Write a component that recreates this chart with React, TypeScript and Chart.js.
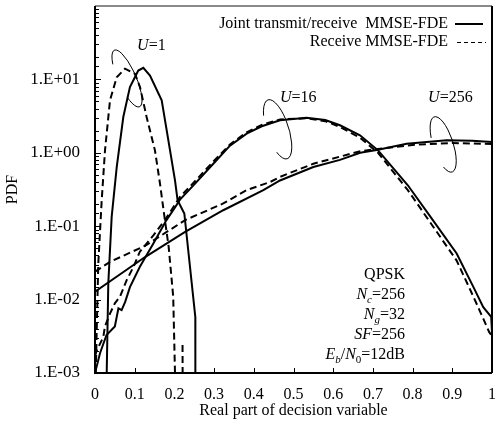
import React, { useEffect, useRef } from "react";
import { Chart, registerables } from "chart.js";

Chart.register(...registerables);

// Probability density of the real part of the decision variable.
// Joint transmit/receive MMSE-FDE (solid) versus receive-only MMSE-FDE (dashed).

const jointU1X = [0.0295, 0.0335, 0.042, 0.0547, 0.0713, 0.088, 0.109, 0.1217, 0.1385, 0.168, 0.189, 0.2015, 0.208, 0.225, 0.2527, 0.2528];
const jointU1Pdf = [0.001, 0.0166, 0.134, 0.64, 3.07, 7.86, 13.2, 14.4, 11.3, 5.18, 1.08, 0.42, 0.226, 0.149, 0.0058, 0.001];

const recvU1X = [0.002, 0.0043, 0.0083, 0.0169, 0.0252, 0.0378, 0.0547, 0.0756, 0.1008, 0.1134, 0.13, 0.151, 0.1637, 0.1738, 0.1856, 0.197, 0.2015, 0.21, 0.2205, 0.2207];
const recvU1Pdf = [0.001, 0.0038, 0.031, 0.226, 1.08, 5.18, 10.7, 14.0, 11.9, 7.86, 3.07, 1.08, 0.381, 0.149, 0.052, 0.011, 0.001, null, 0.0024, 0.001];

const jointU16X = [0, 0.0126, 0.029, 0.05, 0.059, 0.067, 0.076, 0.088, 0.113, 0.147, 0.18, 0.2015, 0.214, 0.248, 0.298, 0.34, 0.382, 0.42, 0.466, 0.533, 0.58, 0.617, 0.6675, 0.713, 0.788, 0.851, 0.911, 0.953, 0.978, 0.998, 1.0];
const jointU16Pdf = [0.001, 0.00186, 0.0033, 0.0043, 0.0076, 0.0072, 0.0093, 0.0148, 0.028, 0.058, 0.121, 0.18, 0.23, 0.36, 0.71, 1.25, 1.82, 2.3, 2.77, 3.01, 2.8, 2.37, 1.73, 1.08, 0.361, 0.121, 0.0425, 0.0149, 0.0079, 0.0058, 0.0036];

const recvU16X = [0, 0.004, 0.021, 0.025, 0.038, 0.05, 0.063, 0.08, 0.097, 0.113, 0.147, 0.176, 0.214, 0.25, 0.3, 0.34, 0.382, 0.42, 0.466, 0.533, 0.58, 0.617, 0.668, 0.713, 0.788, 0.851, 0.911, 0.953, 0.978, 0.993, 1.0];
const recvU16Pdf = [0.0017, 0.002, 0.0031, 0.0043, 0.0065, 0.0089, 0.011, 0.0185, 0.028, 0.045, 0.075, 0.121, 0.25, 0.4, 0.78, 1.3, 1.9, 2.4, 2.85, 2.95, 2.7, 2.25, 1.6, 1.0, 0.31, 0.1, 0.034, 0.011, 0.0055, 0.0036, 0.0032];

const jointU256X = [0, 0.126, 0.227, 0.323, 0.424, 0.466, 0.55, 0.617, 0.668, 0.713, 0.785, 0.886, 0.95, 1.0];
const jointU256Pdf = [0.0128, 0.038, 0.0836, 0.165, 0.309, 0.42, 0.64, 0.8, 1.0, 1.1, 1.33, 1.48, 1.46, 1.4];

const recvU256X = [0, 0.038, 0.126, 0.227, 0.323, 0.382, 0.441, 0.466, 0.55, 0.668, 0.713, 0.8, 0.9, 1.0];
const recvU256Pdf = [0.024, 0.0327, 0.054, 0.121, 0.204, 0.31, 0.4, 0.47, 0.71, 1.05, 1.13, 1.28, 1.36, 1.32];

const xTickLabels = ["0", "0.1", "0.2", "0.3", "0.4", "0.5", "0.6", "0.7", "0.8", "0.9", "1"];
const yTickLabels = ["1.E-03", "1.E-02", "1.E-01", "1.E+00", "1.E+01"];

const legendJoint = "Joint transmit/receive  MMSE-FDE";
const legendRecv = "Receive MMSE-FDE";

const SERIF = '"Liberation Serif", "Times New Roman", serif';

type Seg = { t: string; i?: boolean; sub?: boolean };

const paramLines: Seg[][] = [
  [{ t: "QPSK" }],
  [{ t: "N", i: true }, { t: "c", i: true, sub: true }, { t: "=256" }],
  [{ t: "N", i: true }, { t: "g", i: true, sub: true }, { t: "=32" }],
  [{ t: "SF", i: true }, { t: "=256" }],
  [{ t: "E", i: true }, { t: "b", i: true, sub: true }, { t: "/" }, { t: "N", i: true }, { t: "0", sub: true }, { t: "=12dB" }],
];

// user-count loops: centre in data space, radii in px, tilt and open arc in degrees
const loops = [
  { label: "1", cx: 0.0806, cy: 10.3, rx: 31, ry: 9, rot: 66, from: 127, to: 417, tx: 0.106, ty: 24.8 },
  { label: "16", cx: 0.46, cy: 2.09, rx: 31, ry: 11, rot: 72, from: 124, to: 406, tx: 0.466, ty: 4.86 },
  { label: "256", cx: 0.877, cy: 1.3, rx: 29, ry: 10, rot: 72, from: 110, to: 402, tx: 0.839, ty: 4.86 },
];

function pts(xs: number[], ys: (number | null)[]) {
  return xs.map((x, i) => ({ x, y: ys[i] }));
}

function drawRich(ctx: CanvasRenderingContext2D, segs: Seg[], x: number, base: number, align: "left" | "right", size = 16) {
  const fontFor = (s: Seg) => `${s.i ? "italic " : ""}${s.sub ? Math.round(size * 0.7) : size}px ${SERIF}`;
  let w = 0;
  segs.forEach((s) => {
    ctx.font = fontFor(s);
    w += ctx.measureText(s.t).width;
  });
  let cx = align === "right" ? x - w : x;
  ctx.textAlign = "left";
  ctx.textBaseline = "alphabetic";
  segs.forEach((s) => {
    ctx.font = fontFor(s);
    ctx.fillText(s.t, cx, base + (s.sub ? size * 0.28 : 0));
    cx += ctx.measureText(s.t).width;
  });
}

const isDecade = (v: number) => {
  const e = Math.log10(v);
  return Math.abs(e - Math.round(e)) < 1e-6;
};

const decorPlugin = {
  id: "decor",
  afterDatasetsDraw(chart: any) {
    const { ctx, chartArea: a, scales } = chart;
    const xs = scales.x;
    const ys = scales.y;
    ctx.save();
    ctx.strokeStyle = "#000";
    ctx.fillStyle = "#000";

    // inward tick marks
    ctx.lineWidth = 1;
    ys.ticks.forEach((t: any) => {
      const py = Math.round(ys.getPixelForValue(t.value)) + 0.5;
      ctx.beginPath();
      ctx.moveTo(a.left, py);
      ctx.lineTo(a.left + (isDecade(t.value) ? 6 : 4), py);
      ctx.stroke();
    });
    xs.ticks.forEach((t: any) => {
      const px = Math.round(xs.getPixelForValue(t.value)) + 0.5;
      ctx.beginPath();
      ctx.moveTo(px, a.bottom);
      ctx.lineTo(px, a.bottom - 5);
      ctx.stroke();
    });

    // frame
    ctx.lineWidth = 2;
    ctx.strokeStyle = "#8a8a8a";
    ctx.beginPath();
    ctx.moveTo(a.left, a.top);
    ctx.lineTo(a.right, a.top);
    ctx.stroke();
    ctx.strokeStyle = "#000";
    ctx.beginPath();
    ctx.moveTo(a.right, a.top);
    ctx.lineTo(a.right, a.bottom);
    ctx.moveTo(a.left, a.top);
    ctx.lineTo(a.left, a.bottom);
    ctx.lineTo(a.right, a.bottom);
    ctx.stroke();

    // legend
    ctx.font = `16px ${SERIF}`;
    ctx.textAlign = "right";
    ctx.textBaseline = "middle";
    const lx = a.right - 44;
    ctx.fillText(legendJoint, lx, a.top + 18);
    ctx.fillText(legendRecv, lx, a.top + 36);
    ctx.lineWidth = 2;
    ctx.beginPath();
    ctx.moveTo(a.right - 37, a.top + 18);
    ctx.lineTo(a.right - 9, a.top + 18);
    ctx.stroke();
    ctx.lineWidth = 1.2;
    ctx.setLineDash([4, 3]);
    ctx.beginPath();
    ctx.moveTo(a.right - 35, a.top + 36.5);
    ctx.lineTo(a.right - 6, a.top + 36.5);
    ctx.stroke();
    ctx.setLineDash([]);

    // user-count loops and labels
    ctx.lineWidth = 1;
    loops.forEach((l) => {
      const cx = xs.getPixelForValue(l.cx);
      const cy = ys.getPixelForValue(l.cy);
      ctx.beginPath();
      ctx.ellipse(cx, cy, l.rx, l.ry, (l.rot * Math.PI) / 180, (l.from * Math.PI) / 180, (l.to * Math.PI) / 180);
      ctx.stroke();
      drawRich(ctx, [{ t: "U", i: true }, { t: "=" + l.label }], xs.getPixelForValue(l.tx), ys.getPixelForValue(l.ty), "left");
    });

    // simulation parameters
    paramLines.forEach((segs, i) => {
      drawRich(ctx, segs, a.right - 87, a.bottom - 94 + i * 20, "right");
    });

    ctx.restore();
  },
};

export default function App() {
  const ref = useRef<HTMLCanvasElement | null>(null);

  useEffect(() => {
    if (!ref.current) return;
    const solid = { borderColor: "#000", borderWidth: 2, pointRadius: 0, fill: false, spanGaps: false };
    const dashed = { ...solid, borderDash: [7, 4] };
    const chart = new Chart(ref.current, {
      type: "line",
      data: {
        datasets: [
          { label: "Joint U=1", data: pts(jointU1X, jointU1Pdf), ...solid },
          { label: "Receive U=1", data: pts(recvU1X, recvU1Pdf), ...dashed },
          { label: "Joint U=16", data: pts(jointU16X, jointU16Pdf), ...solid },
          { label: "Receive U=16", data: pts(recvU16X, recvU16Pdf), ...dashed },
          { label: "Joint U=256", data: pts(jointU256X, jointU256Pdf), ...solid },
          { label: "Receive U=256", data: pts(recvU256X, recvU256Pdf), ...dashed },
        ] as any,
      },
      options: {
        animation: false,
        responsive: false,
        devicePixelRatio: 1,
        layout: { padding: { top: 6, right: 4, left: 0, bottom: 0 } },
        elements: { line: { tension: 0 }, point: { radius: 0 } },
        plugins: { legend: { display: false }, tooltip: { enabled: false } },
        scales: {
          x: {
            type: "linear",
            min: 0,
            max: 1,
            grid: { display: false, drawTicks: false },
            border: { display: false },
            ticks: {
              stepSize: 0.1,
              padding: 12,
              autoSkip: false,
              maxRotation: 0,
              color: "#000",
              font: { family: SERIF, size: 16 },
              callback: (v: any) => xTickLabels[Math.round(Number(v) * 10)] ?? "",
            },
            title: {
              display: true,
              text: "Real part of decision variable",
              color: "#000",
              font: { family: SERIF, size: 16 },
              padding: { top: 0, bottom: 5 },
            },
            afterFit: (s: any) => {
              s.height = 52;
              s.paddingLeft = 0;
              s.paddingRight = 0;
            },
          },
          y: {
            type: "logarithmic",
            min: 0.001,
            max: 100,
            grid: { display: false, drawTicks: false },
            border: { display: false },
            ticks: {
              padding: 15,
              autoSkip: false,
              color: "#000",
              font: { family: SERIF, size: 17 },
              callback: (v: any) => {
                const n = Number(v);
                if (!isDecade(n)) return "";
                const e = Math.round(Math.log10(n));
                return yTickLabels[e + 3] ?? "";
              },
            },
            title: {
              display: true,
              text: "PDF",
              color: "#000",
              font: { family: SERIF, size: 16 },
              padding: { top: 3, bottom: 0 },
            },
            afterFit: (s: any) => {
              s.width = 95;
              s.paddingTop = 0;
              s.paddingBottom = 0;
            },
          },
        },
      } as any,
      plugins: [decorPlugin],
    });
    return () => chart.destroy();
  }, []);

  return (
    <div style={{ position: "absolute", left: 0, top: 0, width: 496, height: 425, background: "#fff" }}>
      <canvas ref={ref} width={496} height={425} style={{ display: "block" }} />
    </div>
  );
}
